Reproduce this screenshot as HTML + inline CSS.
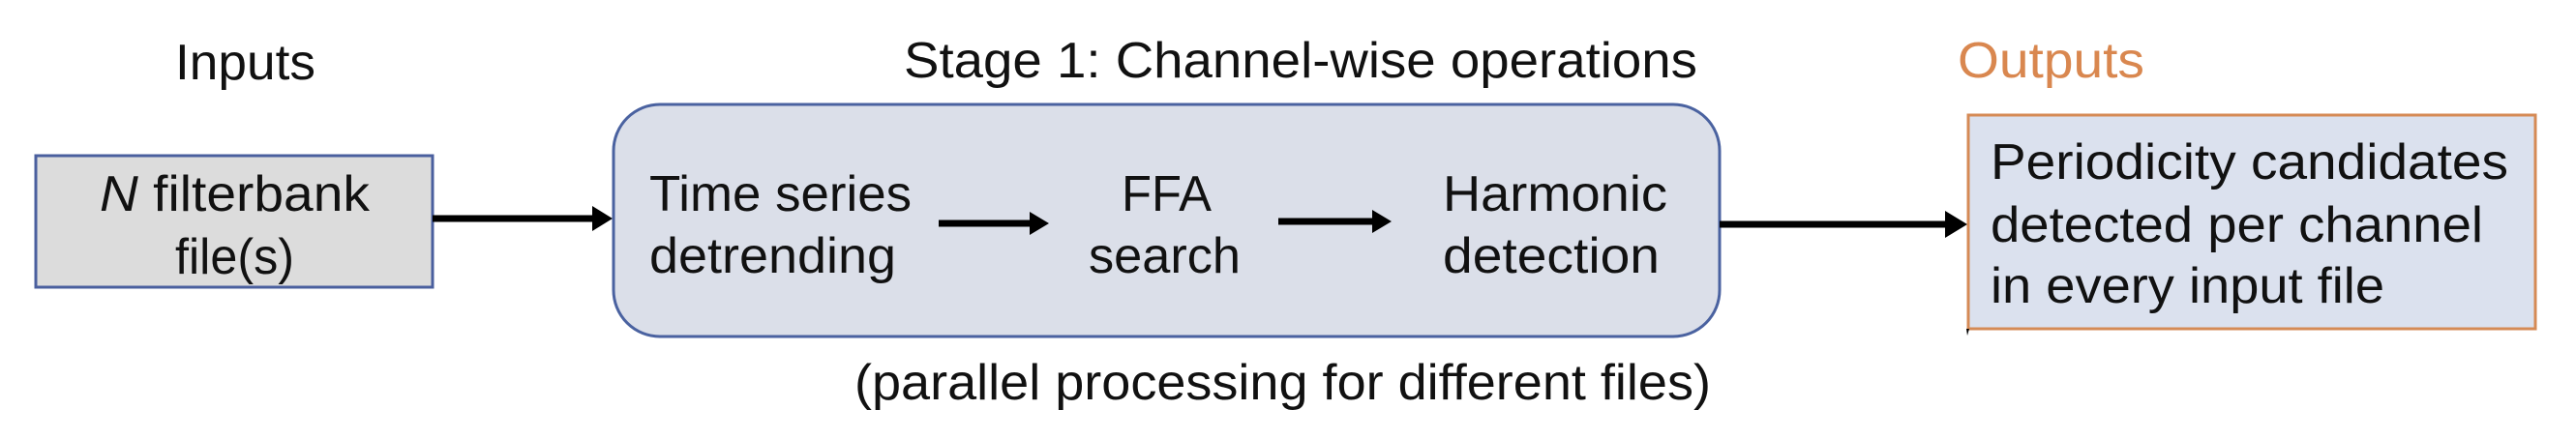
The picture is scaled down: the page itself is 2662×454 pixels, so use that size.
<!DOCTYPE html>
<html><head><meta charset="utf-8"><style>
html,body{margin:0;padding:0;background:#fff;}
svg{display:block;}
text{font-family:"Liberation Sans",Arial,sans-serif;font-size:52px;fill:#111;}
</style></head><body>
<svg width="2662" height="454" viewBox="0 0 2662 454" xmlns="http://www.w3.org/2000/svg">
<defs>
<marker id="ah" markerWidth="10" markerHeight="10" refX="9" refY="5" orient="auto" markerUnits="userSpaceOnUse">
<path d="M0,0 L10,5 L0,10 z" fill="#000"/>
</marker>
</defs>
<text x="181" y="82" textLength="145" lengthAdjust="spacingAndGlyphs">Inputs</text>
<text x="934" y="80" textLength="820" lengthAdjust="spacingAndGlyphs">Stage 1: Channel-wise operations</text>
<text x="2023" y="80" textLength="193" lengthAdjust="spacingAndGlyphs" style="fill:#d9874f">Outputs</text>

<rect x="37" y="161" width="410" height="136" fill="#dcdcdc" stroke="#4a5f9e" stroke-width="3"/>
<text x="103" y="218" textLength="279" lengthAdjust="spacingAndGlyphs"><tspan font-style="italic">N</tspan> filterbank</text>
<text x="181" y="283" textLength="123" lengthAdjust="spacingAndGlyphs">file(s)</text>

<line x1="447" y1="226" x2="616" y2="226" stroke="#000" stroke-width="7"/>
<path d="M612,213 L633,226 L612,239 z" fill="#000"/>

<rect x="634" y="108" width="1143" height="240" rx="48" ry="48" fill="#dbdfe9" stroke="#4a62a0" stroke-width="3"/>
<text x="671" y="218" textLength="271" lengthAdjust="spacingAndGlyphs">Time series</text>
<text x="671" y="282" textLength="255" lengthAdjust="spacingAndGlyphs">detrending</text>
<text x="1159" y="218" textLength="93" lengthAdjust="spacingAndGlyphs">FFA</text>
<text x="1125" y="282" textLength="157" lengthAdjust="spacingAndGlyphs">search</text>
<text x="1491" y="218" textLength="232" lengthAdjust="spacingAndGlyphs">Harmonic</text>
<text x="1491" y="282" textLength="224" lengthAdjust="spacingAndGlyphs">detection</text>

<line x1="970" y1="231" x2="1068" y2="231" stroke="#000" stroke-width="7"/>
<path d="M1064,219 L1084,231 L1064,243 z" fill="#000"/>
<line x1="1321" y1="229" x2="1422" y2="229" stroke="#000" stroke-width="7"/>
<path d="M1418,217 L1438,229 L1418,241 z" fill="#000"/>

<line x1="1777" y1="232" x2="2014" y2="232" stroke="#000" stroke-width="7"/>
<path d="M2010,218 L2033,232 L2010,246 z" fill="#000"/>

<rect x="2034" y="119" width="586" height="221" fill="#dbe1ee" stroke="#d58a55" stroke-width="3"/>
<text x="2057" y="185" textLength="535" lengthAdjust="spacingAndGlyphs">Periodicity candidates</text>
<text x="2057" y="250" textLength="509" lengthAdjust="spacingAndGlyphs">detected per channel</text>
<text x="2057" y="313" textLength="407" lengthAdjust="spacingAndGlyphs">in every input file</text>
<path d="M2032,340 L2035,340 L2033,347 z" fill="#000"/>

<text x="883" y="413" textLength="885" lengthAdjust="spacingAndGlyphs">(parallel processing for different files)</text>
</svg>
</body></html>
